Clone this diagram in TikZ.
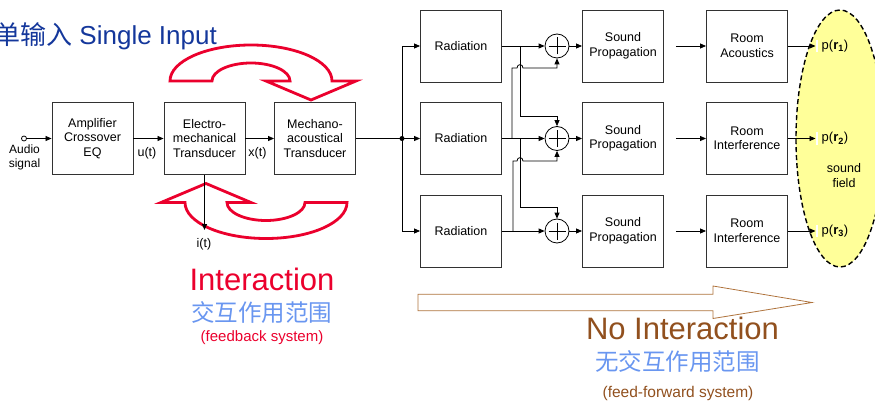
\documentclass[tikz,border=0pt]{standalone}
\usepackage{fontspec}
\setmainfont{Liberation Sans}
\newfontfamily\cjk{Noto Sans CJK SC}
\usetikzlibrary{arrows.meta}
\definecolor{titleblue}{RGB}{20,55,155}
\definecolor{ired}{RGB}{235,0,45}
\definecolor{lblue}{RGB}{105,150,240}
\definecolor{nbrown}{RGB}{145,80,30}
\definecolor{abrown}{RGB}{175,115,60}
\definecolor{fieldyellow}{RGB}{255,255,153}
\definecolor{boxgray}{RGB}{50,50,50}
\begin{document}
\begin{tikzpicture}[x=1pt,y=-1pt,
  blk/.style={draw=boxgray,line width=0.9pt,minimum width=81pt,minimum height=72pt,align=center,inner sep=0pt,font=\fontsize{12.5}{14.5}\selectfont},
  lbl/.style={inner sep=0pt,font=\fontsize{12.5}{14.5}\selectfont,align=center},
  arr/.style={line width=0.8pt,-{Triangle[length=6pt,width=5pt]}},
  ln/.style={line width=0.8pt},
  sum/.style={draw,circle,line width=0.8pt,minimum size=24pt,inner sep=0pt},
  redarrow/.style={draw=ired,line width=2.8pt,fill=white,line join=miter},
]
\useasboundingbox (0,0) rectangle (875,401);
\clip (0,0) rectangle (875,401);

% title
\node[font=\fontsize{26}{30}\selectfont,text=titleblue,anchor=base east,inner sep=0pt] (title) at (217,45) {{\cjk 单输入} Single Input};

% red interaction arrows
\path[redarrow] (170,81) .. controls (170,61.1) and (206.3,45) .. (251,45)
  .. controls (295.7,45) and (332,61.1) .. (332,81) -- (356,81) -- (311,100) -- (266,81) -- (290,81)
  .. controls (290,71.1) and (272.5,63) .. (251,63) .. controls (229.5,63) and (212,71.1) .. (212,81) -- cycle;
\path[redarrow] (347,202.5) .. controls (347,222.4) and (310.7,238.5) .. (266,238.5)
  .. controls (221.3,238.5) and (185,222.4) .. (185,202.5) -- (161,202.5) -- (206,183.5) -- (251,202.5) -- (227,202.5)
  .. controls (227,212.4) and (244.5,220.5) .. (266,220.5) .. controls (287.5,220.5) and (305,212.4) .. (305,202.5) -- cycle;

% sound field
\draw[fill=fieldyellow,line width=1.4pt,dash pattern=on 5pt off 3pt] (840,138.5) ellipse [x radius=44pt, y radius=128.5pt];

% input chain
\node[draw,circle,inner sep=0pt,minimum size=5pt,line width=0.8pt] (ain) at (24,138.5) {};
\node[lbl,font=\fontsize{12}{13.5}\selectfont] (alab) at (24.5,157.5) {Audio\\signal};
\node[blk] (amp) at (92.5,138.5) {Amplifier\\Crossover\\EQ};
\node[blk] (el) at (204.5,138.5) {Electro-\\mechanical\\Transducer};
\node[blk] (me) at (315,138.5) {Mechano-\\acoustical\\Transducer};
\draw[arr] (ain) -- (amp.west);
\draw[arr] (amp.east) -- (el.west);
\draw[arr] (el.east) -- (me.west);
\node[lbl] (ut) at (147,153) {u(t)};
\node[lbl] (xt) at (257.5,153) {x(t)};
\coordinate (itend) at (204.5,230);
\node[lbl] (it) at (204,244) {i(t)};
\draw[arr] (el.south) -- (itend);

% radiation
\node[blk] (r1) at (461,46) {Radiation};
\node[blk] (r2) at (461,138.5) {Radiation};
\node[blk] (r3) at (461,231) {Radiation};
\coordinate (j) at (402,138.5);
\draw[ln] (me.east) -- (j);
\draw[arr] (j) -- (r2.west);
\draw[arr] (j) |- (r1.west);
\draw[arr] (j) |- (r3.west);
\fill (j) circle (2.5pt);

% summers
\foreach \i/\y in {1/46,2/138.5,3/231}{
  \node[sum] (s\i) at (557,\y) {};
  \draw[line width=0.8pt] ([xshift=-8.5pt]s\i.center) -- ([xshift=8.5pt]s\i.center);
  \draw[line width=0.8pt] ([yshift=-8.5pt]s\i.center) -- ([yshift=8.5pt]s\i.center);
}
\draw[arr] (r1.east) -- (s1.west);
\draw[arr] (r2.east) -- (s2.west);
\draw[arr] (r3.east) -- (s3.west);
\coordinate (b1) at (520,46);
\coordinate (b2u) at (512,138.5);
\coordinate (b2d) at (520,138.5);
\coordinate (b3) at (513,231);
\draw[arr] (b1) |- (557,116) -- (s2.north);
\draw[arr] (b2u) -- (512,68) -- (517,68) .. controls (517,63.5) and (523,63.5) .. (523,68) -- (557,68) -- (s1.south);
\draw[arr] (b2d) |- (557,207) -- (s3.north);
\draw[arr] (b3) -- (513,161) -- (517,161) .. controls (517,156.5) and (523,156.5) .. (523,161) -- (557,161) -- (s2.south);

% propagation and room
\node[blk] (sp1) at (623,46) {Sound\\Propagation};
\node[blk] (sp2) at (623,138.5) {Sound\\Propagation};
\node[blk] (sp3) at (623,231) {Sound\\Propagation};
\node[blk] (rm1) at (747,46) {Room\\Acoustics};
\node[blk] (rm2) at (747,138.5) {Room\\Interference};
\node[blk] (rm3) at (747,231) {Room\\Interference};
\foreach \i in {1,2,3}{
  \draw[arr] (s\i.east) -- (sp\i.west);
  \draw[arr] ([xshift=12pt]sp\i.east) -- (rm\i.west);
}

% outputs
\foreach \i/\y in {1/46,2/138.5,3/231}{
  \coordinate (pe\i) at (815.5,\y);
  \draw[arr] (rm\i.east) -- (pe\i);
  \fill[white] (815.5,\y-6) rectangle (818,\y+6);
  \node[lbl,anchor=west,font=\fontsize{13}{15}\selectfont] (p\i) at (821.5,\y) {p(\textbf{r}\textsubscript{\textbf{\i}})};
}
\node[lbl,font=\fontsize{12.5}{15}\selectfont] (sf) at (844,175.5) {sound\\field};

% texts
\node[anchor=base,inner sep=0pt,text=ired,font=\fontsize{31}{35}\selectfont] (inter) at (262,290) {Interaction};
\node[anchor=base,inner sep=0pt,text=lblue,font=\fontsize{23.5}{26}\selectfont\cjk] (intercn) at (261.5,321.5) {交互作用范围};
\node[anchor=base,inner sep=0pt,text=ired,font=\fontsize{15}{17}\selectfont] (fb) at (262,341) {(feedback system)};

\path[draw=abrown,line width=0.8pt,fill=white] (418,294.3) -- (713,294.3) -- (713,286) -- (812,302.5) -- (713,318.5) -- (713,310.7) -- (418,310.7) -- cycle;
\node[anchor=base,inner sep=0pt,text=nbrown,font=\fontsize{31}{35}\selectfont] (noint) at (682.5,339.3) {No Interaction};
\node[anchor=base,inner sep=0pt,text=lblue,font=\fontsize{23.5}{26}\selectfont\cjk] (nointcn) at (677.5,370) {无交互作用范围};
\node[anchor=base,inner sep=0pt,text=nbrown,font=\fontsize{15.5}{17}\selectfont] (ff) at (678,397) {(feed-forward system)};
\end{tikzpicture}
\end{document}
